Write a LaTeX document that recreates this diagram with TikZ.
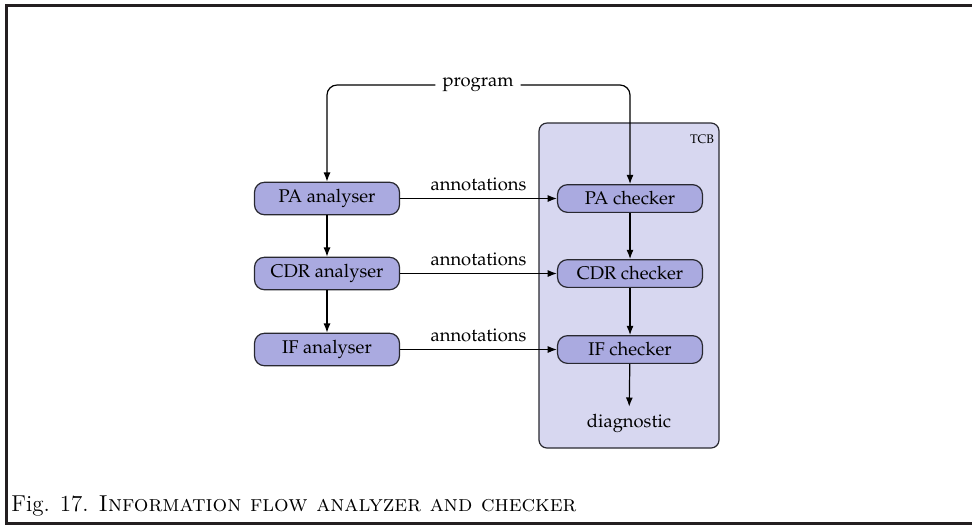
\documentclass[tikz,border=0pt]{standalone}
\usepackage[T1,TU]{fontenc}
\usetikzlibrary{arrows.meta}
\definecolor{nodefill}{RGB}{170,170,224}
\definecolor{tcbfill}{RGB}{215,215,240}
\definecolor{framecol}{RGB}{35,31,32}
\definecolor{edgecol}{RGB}{40,40,48}
\newcommand\palfont{\fontencoding{T1}\fontfamily{ppl}\selectfont}
\begin{document}
\begin{tikzpicture}[x=0.5pt,y=-0.5pt,
  box/.style={draw=edgecol, fill=nodefill, rounded corners=5pt, minimum width=72.5pt,
    inner ysep=3.5pt, line width=0.6pt, font=\palfont\fontsize{9.2}{11}\selectfont},
  lbl/.style={font=\palfont\fontsize{9.2}{11}\selectfont},
  arr/.style={-{Latex[length=4.6pt,width=3.5pt]}, line width=0.6pt},
  tcbbox/.style={draw=edgecol, fill=tcbfill, rounded corners=4pt, line width=0.6pt,
    minimum width=90pt, minimum height=162.5pt, inner sep=0pt}]
\useasboundingbox (0,0) rectangle (972,527);
\draw[line width=1.5pt, draw=framecol] (972,5) -- (6,5) -- (6,523) -- (972,523);

\node[tcbbox] (tcb) at (629,285.5) {};
\node[font=\palfont\fontsize{6.2}{7}\selectfont] (tcbl) at (702,139) {TCB};

\node[box] (paa) at (327,198.5) {PA analyser};
\node[box] (cdra) at (327,273.5) {CDR analyser};
\node[box] (ifa) at (327,349.5) {IF analyser};
\node[box] (pac) at (630,198.5) {PA checker};
\node[box] (cdrc) at (630,273.5) {CDR checker};
\node[box] (ifc) at (630,349.5) {IF checker};

\node[lbl] (prog) at (478,85) {program};
\node[lbl] (diag) at (629,423) {diagnostic};

\draw[arr, rounded corners=5pt] (prog.west) -| (paa.north);
\draw[arr, rounded corners=5pt] (prog.east) -| (pac.north);

\draw[arr] (paa) -- (cdra);
\draw[arr] (cdra) -- (ifa);
\draw[arr] (pac) -- (cdrc);
\draw[arr] (cdrc) -- (ifc);
\draw[arr] (ifc) -- (diag);

\draw[arr] (paa) -- node[lbl, above] (an1) {annotations} (pac);
\draw[arr] (cdra) -- node[lbl, above] (an2) {annotations} (cdrc);
\draw[arr] (ifa) -- node[lbl, above] (an3) {annotations} (ifc);

\node[anchor=base west, inner sep=0pt, font=\fontsize{11.5}{13}\selectfont] (cap) at (11,511)
  {Fig. 17. \textsc{Information flow analyzer and checker}};
\end{tikzpicture}
\end{document}
